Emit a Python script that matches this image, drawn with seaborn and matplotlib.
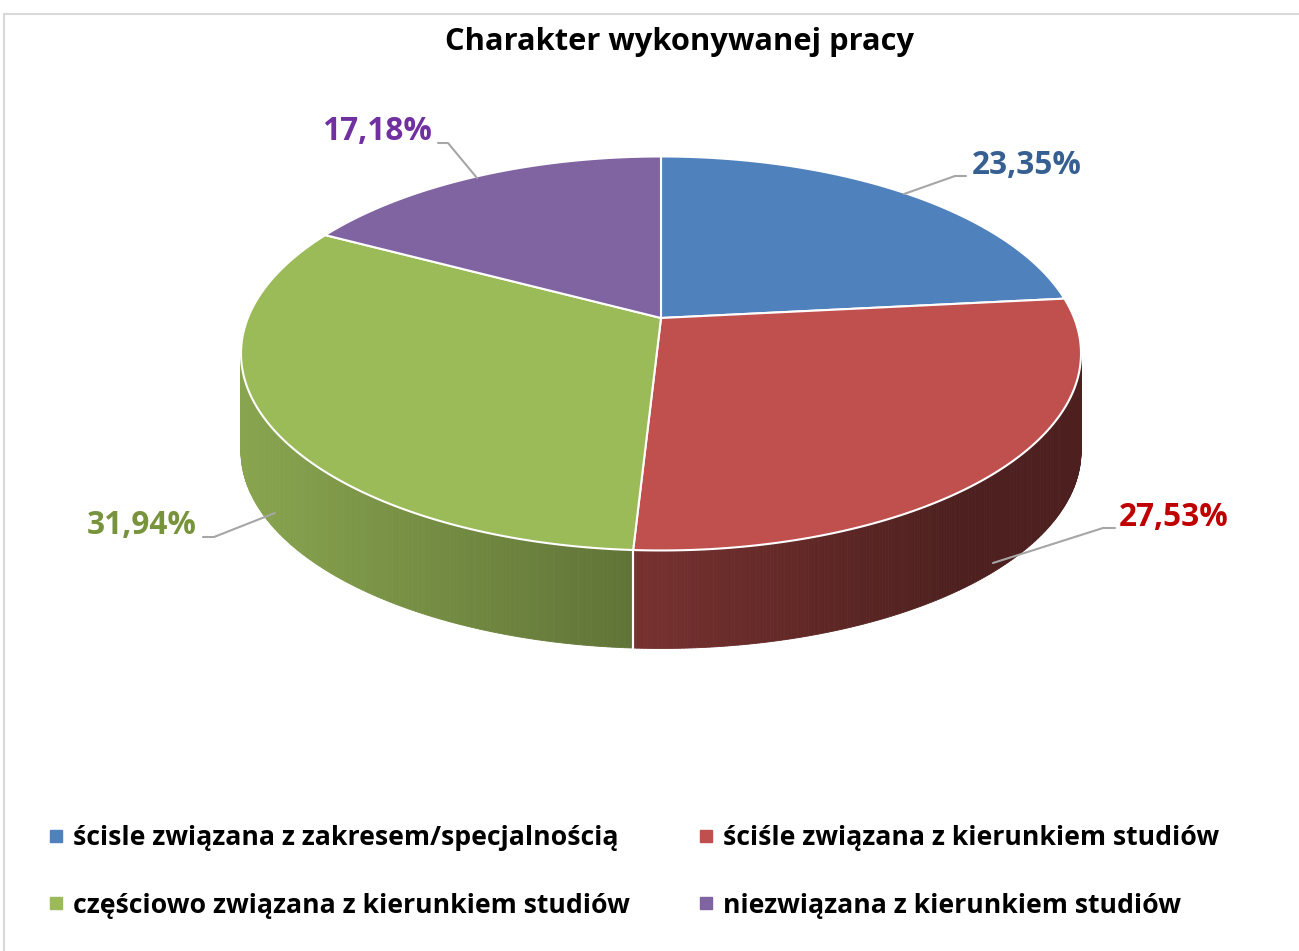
import matplotlib
matplotlib.use("Agg")
import matplotlib.pyplot as plt
import numpy as np
import seaborn as sns
from matplotlib.lines import Line2D
from matplotlib.patches import Rectangle

sns.set_theme(style="white")
plt.rcParams['font.family'] = ['Open Sans', 'DejaVu Sans']

title = "Charakter wykonywanej pracy"
categories = [
    "ścisle związana z zakresem/specjalnością",
    "ściśle związana z kierunkiem studiów",
    "częściowo związana z kierunkiem studiów",
    "niezwiązana z kierunkiem studiów",
]
shares = [23.35, 27.53, 31.94, 17.18]
value_labels = ["23,35%", "27,53%", "31,94%", "17,18%"]

colors = ["#4F81BD", "#C0504D", "#9BBB59", "#8064A2"]
label_colors = ["#376092", "#C00000", "#77933C", "#7030A0"]

W, H = 1299, 951
CX, CY = 661, 318          # pie centre (pixels)
RX, RY = 420, 197          # apparent ellipse semi-axes (pixels)
DEPTH = 98                 # side wall height (pixels)
P = 0.18                   # perspective strength
SX = RX * np.sqrt(1 - P ** 2)
SY = RY * (1 - P ** 2)


def project(t, r=1.0):
    # point on the pie disc (angle t, radius r) -> screen pixels
    x = r * np.cos(t)
    y = r * np.sin(t)
    d = 1 + P * y
    return CX + SX * x / d, CY - SY * y / d


fig = plt.figure(figsize=(W / 100, H / 100), dpi=100)
ax = fig.add_axes([0, 0, 1, 1])
ax.set_xlim(0, W)
ax.set_ylim(H, 0)
ax.axis("off")

fr = np.cumsum([0] + shares) / sum(shares)
left_x = CX - RX

for i, c in enumerate(colors):
    a0 = np.radians(90 - 360 * fr[i])
    a1 = np.radians(90 - 360 * fr[i + 1])
    t = np.linspace(a0, a1, 240)
    base = np.array(matplotlib.colors.to_rgb(c))

    # side wall, visible on the front part of the rim, darker to the right
    for j in range(len(t) - 1):
        if np.sin(0.5 * (t[j] + t[j + 1])) >= -P:
            continue
        xs, ys = project(t[j:j + 2])
        f = max(0.88 - 0.28 * (xs.mean() - left_x) / RX, 0.40)
        ax.fill([xs[0], xs[1], xs[1], xs[0]],
                [ys[0], ys[1], ys[1] + DEPTH, ys[0] + DEPTH],
                color=base * f, ec=base * f, lw=0.6, zorder=1)
    for a in (a0, a1):
        if np.sin(a) < -P:
            x0, y0 = project(a)
            ax.plot([x0, x0], [y0, y0 + DEPTH], color="white", lw=1.5, zorder=2)

    # top face
    xs, ys = project(t)
    ax.fill(np.r_[CX, xs], np.r_[CY, ys], color=c, ec="white", lw=1.5, zorder=3)

# data labels with leader lines
label_pos = [(1027, 165), (1174, 518), (142, 526), (377, 132)]
leaders = [
    [(904, 194), (955, 176), (966, 176)],
    [(993, 563), (1103, 528), (1115, 528)],
    [(203, 537), (214, 537), (275, 513)],
    [(438, 143), (448, 143), (477, 178)],
]
for lab, col, (px, py), pts in zip(value_labels, label_colors, label_pos, leaders):
    ax.plot([p[0] for p in pts], [p[1] for p in pts], color="#A6A6A6",
            lw=1.5, zorder=4)
    ax.text(px, py, lab, color=col, fontsize=22.7, fontweight="bold",
            ha="center", va="center", zorder=5)

ax.text(680, 42, title, fontsize=22.2, fontweight="bold",
        ha="center", va="center", color="black")

# chart frame
fig.patches.append(Rectangle((4 / W, -0.1), 1.2, 1.1 - 14 / H,
                             transform=fig.transFigure,
                             fill=False, ec="#D9D9D9", lw=1.5))

order = [0, 2, 1, 3]
handles = [Line2D([], [], marker="s", ls="", color=colors[i], markersize=8.5)
           for i in order]
fig.legend(handles, [categories[i] for i in order], ncol=2, loc="upper left",
           bbox_to_anchor=(50 / W, 1 - 825 / H), frameon=False,
           prop=dict(weight="bold", size=19.2), handlelength=0.45,
           handletextpad=0.42, borderpad=0, borderaxespad=0,
           columnspacing=2.61, labelspacing=1.56, labelcolor="black")

fig.savefig("out.png", dpi=100, facecolor="white")
